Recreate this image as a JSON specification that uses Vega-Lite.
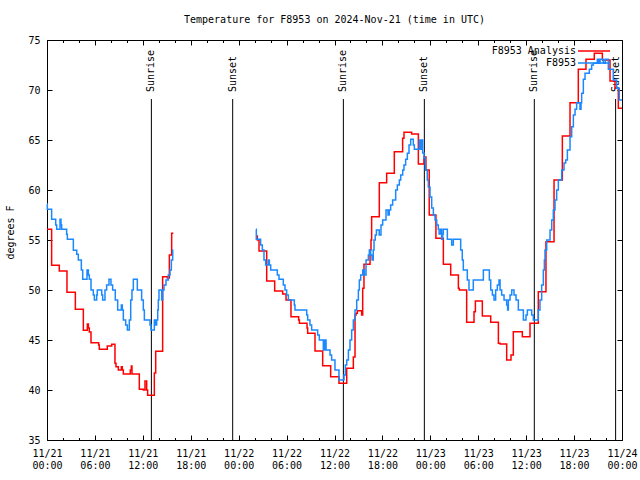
{
"$schema": "https://vega.github.io/schema/vega-lite/v6.json",
"width": 575, "height": 400,
"autosize": {"type": "none"},
"padding": {"left": 47, "top": 40, "right": 18, "bottom": 40},
"background": "white",
"title": {"text": "Temperature for F8953 on 2024-Nov-21 (time in UTC)", "font": "DejaVu Sans Mono", "fontSize": 10, "fontWeight": "normal", "color": "black", "offset": 10, "anchor": "middle"},
"config": {
  "view": {"stroke": "black", "strokeWidth": 1},
  "font": "DejaVu Sans Mono",
  "axis": {"grid": false, "domain": false, "tickColor": "black", "tickWidth": 1, "labelColor": "black", "titleColor": "black", "labelFont": "DejaVu Sans Mono", "labelFontSize": 10, "titleFont": "DejaVu Sans Mono", "titleFontSize": 10, "titleFontWeight": "normal"}
},
"datasets": {
  "sun": [
    {"h": 13.07, "event": "Sunrise"}, {"h": 23.25, "event": "Sunset"},
    {"h": 37.11, "event": "Sunrise"}, {"h": 47.25, "event": "Sunset"},
    {"h": 61.02, "event": "Sunrise"}, {"h": 71.2, "event": "Sunset"}
  ],
  "analysis": [
    {"h":0,"temp":56.07,"seg":1},{"h":0.58,"temp":52.47,"seg":1},{"h":1.54,"temp":51.9,"seg":1},{"h":2.5,"temp":49.77,"seg":1},{"h":3.55,"temp":48.07,"seg":1},{"h":4.55,"temp":45.97,"seg":1},{"h":5.05,"temp":46.6,"seg":1},{"h":5.18,"temp":46.2,"seg":1},{"h":5.3,"temp":45.8,"seg":1},{"h":5.51,"temp":44.73,"seg":1},{"h":6.47,"temp":44.5,"seg":1},{"h":6.55,"temp":44.07,"seg":1},{"h":7.55,"temp":44.4,"seg":1},{"h":8.1,"temp":44.57,"seg":1},{"h":8.51,"temp":42.67,"seg":1},{"h":8.64,"temp":42.33,"seg":1},{"h":8.93,"temp":42.0,"seg":1},{"h":9.31,"temp":42.33,"seg":1},{"h":9.43,"temp":42.0,"seg":1},{"h":9.56,"temp":41.6,"seg":1},{"h":10.43,"temp":42.0,"seg":1},{"h":10.56,"temp":42.4,"seg":1},{"h":10.64,"temp":41.6,"seg":1},{"h":11.56,"temp":40.07,"seg":1},{"h":12.06,"temp":40.0,"seg":1},{"h":12.27,"temp":40.9,"seg":1},{"h":12.48,"temp":40.0,"seg":1},{"h":12.6,"temp":39.47,"seg":1},{"h":13.44,"temp":41.7,"seg":1},{"h":13.61,"temp":43.87,"seg":1},{"h":14.48,"temp":51.33,"seg":1},{"h":15.07,"temp":51.2,"seg":1},{"h":15.32,"temp":53.5,"seg":1},{"h":15.61,"temp":55.67,"seg":1},{"h":15.82,"temp":55.67,"seg":1},
    {"h":26.25,"temp":55.4,"seg":2},{"h":26.34,"temp":55.0,"seg":2},{"h":26.55,"temp":53.9,"seg":2},{"h":27.51,"temp":50.9,"seg":2},{"h":28.51,"temp":49.9,"seg":2},{"h":29.51,"temp":49.6,"seg":2},{"h":29.93,"temp":49.0,"seg":2},{"h":30.55,"temp":47.33,"seg":2},{"h":31.51,"temp":47.0,"seg":2},{"h":31.6,"temp":46.67,"seg":2},{"h":32.56,"temp":46.2,"seg":2},{"h":32.64,"temp":45.67,"seg":2},{"h":33.56,"temp":43.9,"seg":2},{"h":34.52,"temp":42.43,"seg":2},{"h":35.52,"temp":41.33,"seg":2},{"h":36.56,"temp":40.67,"seg":2},{"h":37.53,"temp":42.17,"seg":2},{"h":38.36,"temp":43.3,"seg":2},{"h":38.57,"temp":47.5,"seg":2},{"h":38.7,"temp":47.67,"seg":2},{"h":38.86,"temp":47.93,"seg":2},{"h":39.4,"temp":47.5,"seg":2},{"h":39.53,"temp":50.17,"seg":2},{"h":39.69,"temp":52.57,"seg":2},{"h":40.45,"temp":54.0,"seg":2},{"h":40.57,"temp":55.0,"seg":2},{"h":40.65,"temp":57.33,"seg":2},{"h":41.61,"temp":60.73,"seg":2},{"h":42.53,"temp":61.67,"seg":2},{"h":43.49,"temp":63.83,"seg":2},{"h":44.53,"temp":65.17,"seg":2},{"h":44.7,"temp":65.77,"seg":2},{"h":45.66,"temp":65.6,"seg":2},{"h":46.5,"temp":62.6,"seg":2},{"h":47.2,"temp":63.3,"seg":2},{"h":47.45,"temp":62.0,"seg":2},{"h":47.86,"temp":57.5,"seg":2},{"h":48.7,"temp":55.17,"seg":2},{"h":49.63,"temp":52.57,"seg":2},{"h":50.55,"temp":51.5,"seg":2},{"h":51.51,"temp":50.17,"seg":2},{"h":51.63,"temp":50.0,"seg":2},{"h":52.55,"temp":46.77,"seg":2},{"h":53.47,"temp":47.83,"seg":2},{"h":53.64,"temp":48.9,"seg":2},{"h":54.51,"temp":47.4,"seg":2},{"h":55.56,"temp":46.77,"seg":2},{"h":56.52,"temp":44.67,"seg":2},{"h":56.73,"temp":44.6,"seg":2},{"h":57.56,"temp":43.0,"seg":2},{"h":58.1,"temp":43.5,"seg":2},{"h":58.39,"temp":45.83,"seg":2},{"h":59.52,"temp":45.33,"seg":2},{"h":60.48,"temp":46.67,"seg":2},{"h":61.52,"temp":49.83,"seg":2},{"h":62.48,"temp":54.83,"seg":2},{"h":63.49,"temp":61.0,"seg":2},{"h":64.53,"temp":65.4,"seg":2},{"h":65.49,"temp":68.73,"seg":2},{"h":66.53,"temp":72.07,"seg":2},{"h":67.49,"temp":73.07,"seg":2},{"h":68.53,"temp":73.67,"seg":2},{"h":69.54,"temp":73.0,"seg":2},{"h":70.5,"temp":70.9,"seg":2},{"h":71.12,"temp":70.17,"seg":2},{"h":71.54,"temp":68.17,"seg":2},{"h":72,"temp":68.17,"seg":2}
  ],
  "obs": [
    {"h":0,"temp":58.6,"seg":1},{"h":0.04,"temp":58.07,"seg":1},{"h":0.58,"temp":57.07,"seg":1},{"h":1.09,"temp":56.5,"seg":1},{"h":1.21,"temp":56.07,"seg":1},{"h":1.63,"temp":57.07,"seg":1},{"h":1.75,"temp":56.5,"seg":1},{"h":1.84,"temp":56.07,"seg":1},{"h":2.46,"temp":55.57,"seg":1},{"h":2.55,"temp":55.07,"seg":1},{"h":3.3,"temp":53.97,"seg":1},{"h":3.72,"temp":53.57,"seg":1},{"h":3.92,"temp":53.0,"seg":1},{"h":4.3,"temp":52.0,"seg":1},{"h":4.47,"temp":51.07,"seg":1},{"h":5.01,"temp":52.0,"seg":1},{"h":5.18,"temp":51.5,"seg":1},{"h":5.3,"temp":51.07,"seg":1},{"h":5.51,"temp":50.0,"seg":1},{"h":5.8,"temp":49.5,"seg":1},{"h":5.93,"temp":49.0,"seg":1},{"h":6.22,"temp":49.5,"seg":1},{"h":6.3,"temp":50.0,"seg":1},{"h":6.85,"temp":49.5,"seg":1},{"h":6.97,"temp":49.0,"seg":1},{"h":7.26,"temp":50.0,"seg":1},{"h":7.47,"temp":50.5,"seg":1},{"h":7.76,"temp":51.07,"seg":1},{"h":8.01,"temp":50.5,"seg":1},{"h":8.22,"temp":50.0,"seg":1},{"h":8.55,"temp":49.0,"seg":1},{"h":8.85,"temp":48.0,"seg":1},{"h":9.31,"temp":48.5,"seg":1},{"h":9.43,"temp":48.0,"seg":1},{"h":9.56,"temp":47.0,"seg":1},{"h":9.85,"temp":46.5,"seg":1},{"h":10.06,"temp":46.0,"seg":1},{"h":10.31,"temp":47.0,"seg":1},{"h":10.48,"temp":49.0,"seg":1},{"h":10.64,"temp":50.0,"seg":1},{"h":10.81,"temp":51.07,"seg":1},{"h":11.31,"temp":50.0,"seg":1},{"h":11.85,"temp":49.0,"seg":1},{"h":12.06,"temp":48.0,"seg":1},{"h":12.19,"temp":47.0,"seg":1},{"h":12.9,"temp":46.5,"seg":1},{"h":13.02,"temp":46.0,"seg":1},{"h":13.44,"temp":47.0,"seg":1},{"h":13.61,"temp":46.5,"seg":1},{"h":13.73,"temp":47.0,"seg":1},{"h":13.86,"temp":48.0,"seg":1},{"h":13.94,"temp":49.0,"seg":1},{"h":14.02,"temp":50.0,"seg":1},{"h":14.36,"temp":49.0,"seg":1},{"h":14.48,"temp":50.0,"seg":1},{"h":14.65,"temp":50.5,"seg":1},{"h":14.9,"temp":51.0,"seg":1},{"h":15.19,"temp":51.5,"seg":1},{"h":15.4,"temp":52.0,"seg":1},{"h":15.57,"temp":53.0,"seg":1},{"h":15.74,"temp":54.0,"seg":1},{"h":15.82,"temp":54.0,"seg":1},
    {"h":26.17,"temp":56.07,"seg":2},{"h":26.21,"temp":55.07,"seg":2},{"h":26.75,"temp":54.5,"seg":2},{"h":26.96,"temp":54.0,"seg":2},{"h":27.17,"temp":53.0,"seg":2},{"h":27.38,"temp":52.5,"seg":2},{"h":27.72,"temp":53.0,"seg":2},{"h":27.84,"temp":52.5,"seg":2},{"h":28.01,"temp":52.0,"seg":2},{"h":28.84,"temp":51.5,"seg":2},{"h":29.05,"temp":51.07,"seg":2},{"h":29.59,"temp":50.5,"seg":2},{"h":29.8,"temp":50.0,"seg":2},{"h":30.01,"temp":49.5,"seg":2},{"h":30.22,"temp":49.0,"seg":2},{"h":30.97,"temp":48.5,"seg":2},{"h":31.05,"temp":48.0,"seg":2},{"h":32.52,"temp":47.5,"seg":2},{"h":32.64,"temp":47.0,"seg":2},{"h":32.93,"temp":46.5,"seg":2},{"h":33.14,"temp":46.0,"seg":2},{"h":33.89,"temp":45.5,"seg":2},{"h":34.1,"temp":45.0,"seg":2},{"h":34.6,"temp":44.0,"seg":2},{"h":34.77,"temp":45.0,"seg":2},{"h":34.94,"temp":44.0,"seg":2},{"h":35.44,"temp":43.5,"seg":2},{"h":35.64,"temp":43.0,"seg":2},{"h":36.06,"temp":42.0,"seg":2},{"h":36.56,"temp":41.0,"seg":2},{"h":37.19,"temp":41.5,"seg":2},{"h":37.36,"temp":42.5,"seg":2},{"h":37.53,"temp":43.0,"seg":2},{"h":37.74,"temp":44.0,"seg":2},{"h":37.94,"temp":45.0,"seg":2},{"h":38.15,"temp":46.0,"seg":2},{"h":38.36,"temp":47.0,"seg":2},{"h":38.57,"temp":48.0,"seg":2},{"h":38.78,"temp":49.0,"seg":2},{"h":38.99,"temp":50.0,"seg":2},{"h":39.11,"temp":51.0,"seg":2},{"h":39.28,"temp":51.5,"seg":2},{"h":39.53,"temp":52.0,"seg":2},{"h":39.74,"temp":51.5,"seg":2},{"h":39.95,"temp":53.0,"seg":2},{"h":40.24,"temp":53.5,"seg":2},{"h":40.36,"temp":54.0,"seg":2},{"h":40.53,"temp":53.5,"seg":2},{"h":40.7,"temp":53.0,"seg":2},{"h":40.85,"temp":54.0,"seg":2},{"h":40.95,"temp":55.0,"seg":2},{"h":41.1,"temp":55.5,"seg":2},{"h":41.25,"temp":56.0,"seg":2},{"h":41.6,"temp":55.5,"seg":2},{"h":41.82,"temp":56.5,"seg":2},{"h":42.03,"temp":57.0,"seg":2},{"h":42.45,"temp":58.0,"seg":2},{"h":42.7,"temp":57.5,"seg":2},{"h":42.85,"temp":58.0,"seg":2},{"h":43.03,"temp":58.5,"seg":2},{"h":43.28,"temp":59.0,"seg":2},{"h":43.66,"temp":60.0,"seg":2},{"h":43.87,"temp":60.5,"seg":2},{"h":44.12,"temp":61.0,"seg":2},{"h":44.29,"temp":61.5,"seg":2},{"h":44.54,"temp":62.0,"seg":2},{"h":44.7,"temp":62.5,"seg":2},{"h":44.91,"temp":63.07,"seg":2},{"h":45.12,"temp":63.67,"seg":2},{"h":45.33,"temp":64.5,"seg":2},{"h":45.54,"temp":65.07,"seg":2},{"h":45.87,"temp":64.5,"seg":2},{"h":46.0,"temp":64.07,"seg":2},{"h":46.62,"temp":65.0,"seg":2},{"h":46.79,"temp":64.07,"seg":2},{"h":46.92,"temp":65.0,"seg":2},{"h":47.04,"temp":63.7,"seg":2},{"h":47.21,"temp":63.2,"seg":2},{"h":47.38,"temp":62.0,"seg":2},{"h":47.62,"temp":61.0,"seg":2},{"h":47.75,"temp":60.3,"seg":2},{"h":47.96,"temp":59.3,"seg":2},{"h":48.17,"temp":58.2,"seg":2},{"h":48.38,"temp":57.5,"seg":2},{"h":48.59,"temp":57.0,"seg":2},{"h":48.8,"temp":56.5,"seg":2},{"h":49.0,"temp":56.07,"seg":2},{"h":49.1,"temp":55.6,"seg":2},{"h":49.3,"temp":56.07,"seg":2},{"h":49.42,"temp":55.07,"seg":2},{"h":49.55,"temp":55.6,"seg":2},{"h":49.63,"temp":56.07,"seg":2},{"h":50.13,"temp":55.07,"seg":2},{"h":50.67,"temp":54.5,"seg":2},{"h":50.88,"temp":55.07,"seg":2},{"h":51.8,"temp":54.0,"seg":2},{"h":52.0,"temp":53.0,"seg":2},{"h":52.13,"temp":52.0,"seg":2},{"h":52.63,"temp":51.0,"seg":2},{"h":52.84,"temp":50.0,"seg":2},{"h":53.38,"temp":51.0,"seg":2},{"h":54.64,"temp":52.0,"seg":2},{"h":55.39,"temp":51.0,"seg":2},{"h":55.56,"temp":50.0,"seg":2},{"h":55.77,"temp":49.5,"seg":2},{"h":55.97,"temp":49.0,"seg":2},{"h":56.18,"temp":50.0,"seg":2},{"h":56.39,"temp":50.5,"seg":2},{"h":56.6,"temp":51.0,"seg":2},{"h":56.73,"temp":50.0,"seg":2},{"h":56.93,"temp":49.5,"seg":2},{"h":57.23,"temp":49.0,"seg":2},{"h":57.56,"temp":48.5,"seg":2},{"h":57.68,"temp":48.0,"seg":2},{"h":57.77,"temp":49.0,"seg":2},{"h":57.98,"temp":49.5,"seg":2},{"h":58.19,"temp":50.0,"seg":2},{"h":58.48,"temp":49.5,"seg":2},{"h":58.73,"temp":49.0,"seg":2},{"h":59.02,"temp":48.0,"seg":2},{"h":59.65,"temp":47.0,"seg":2},{"h":59.98,"temp":47.5,"seg":2},{"h":60.15,"temp":48.0,"seg":2},{"h":60.69,"temp":47.5,"seg":2},{"h":60.9,"temp":47.0,"seg":2},{"h":61.52,"temp":48.0,"seg":2},{"h":61.73,"temp":49.0,"seg":2},{"h":61.94,"temp":50.5,"seg":2},{"h":62.15,"temp":52.0,"seg":2},{"h":62.28,"temp":53.0,"seg":2},{"h":62.36,"temp":54.0,"seg":2},{"h":62.57,"temp":55.0,"seg":2},{"h":62.99,"temp":56.0,"seg":2},{"h":63.2,"temp":57.0,"seg":2},{"h":63.4,"temp":58.0,"seg":2},{"h":63.61,"temp":59.0,"seg":2},{"h":63.82,"temp":60.0,"seg":2},{"h":64.03,"temp":61.0,"seg":2},{"h":64.45,"temp":62.0,"seg":2},{"h":64.74,"temp":62.7,"seg":2},{"h":64.95,"temp":63.0,"seg":2},{"h":65.16,"temp":64.0,"seg":2},{"h":65.49,"temp":65.33,"seg":2},{"h":65.7,"temp":66.33,"seg":2},{"h":65.91,"temp":67.5,"seg":2},{"h":66.12,"temp":68.07,"seg":2},{"h":66.32,"temp":68.73,"seg":2},{"h":66.74,"temp":68.07,"seg":2},{"h":66.87,"temp":68.73,"seg":2},{"h":66.95,"temp":69.67,"seg":2},{"h":67.16,"temp":71.07,"seg":2},{"h":67.37,"temp":71.67,"seg":2},{"h":67.91,"temp":72.07,"seg":2},{"h":68.2,"temp":72.5,"seg":2},{"h":68.41,"temp":72.67,"seg":2},{"h":68.91,"temp":73.07,"seg":2},{"h":69.08,"temp":72.67,"seg":2},{"h":69.25,"temp":73.07,"seg":2},{"h":69.66,"temp":72.67,"seg":2},{"h":69.9,"temp":73.07,"seg":2},{"h":70.29,"temp":72.07,"seg":2},{"h":70.91,"temp":71.0,"seg":2},{"h":71.33,"temp":70.17,"seg":2},{"h":71.66,"temp":69.0,"seg":2},{"h":72,"temp":69.0,"seg":2}
  ]
},
"layer": [
  {
    "data": {"name": "sun"},
    "mark": {"type": "rule", "color": "black", "strokeWidth": 1},
    "encoding": {
      "x": {"field": "h", "type": "quantitative", "scale": {"domain": [0, 72], "nice": false, "zero": false},
            "axis": {"orient": "top", "values": [0,6,12,18,24,30,36,42,48,54,60,66,72], "tickSize": -5, "labels": false, "title": null}},
      "y": {"datum": 69.1, "type": "quantitative", "axis": null},
      "y2": {"datum": 35}
    }
  },
  {
    "data": {"name": "sun"},
    "mark": {"type": "text", "angle": 270, "align": "left", "baseline": "middle", "font": "DejaVu Sans Mono", "fontSize": 10, "color": "black"},
    "encoding": {
      "x": {"field": "h", "type": "quantitative",
            "axis": {"orient": "top", "values": [0,2,4,6,8,10,12,14,16,18,20,22,24,26,28,30,32,34,36,38,40,42,44,46,48,50,52,54,56,58,60,62,64,66,68,70,72], "tickSize": -2.5, "labels": false, "title": null}},
      "y": {"datum": 69.8, "type": "quantitative", "axis": null},
      "text": {"field": "event"}
    }
  },
  {
    "data": {"name": "analysis"},
    "mark": {"type": "line", "interpolate": "step-after", "strokeWidth": 1.5},
    "encoding": {
      "x": {"field": "h", "type": "quantitative",
            "axis": {"orient": "bottom", "values": [0,6,12,18,24,30,36,42,48,54,60,66,72], "tickSize": -5, "labelPadding": 13, "labelLineHeight": 12.5, "labelFlush": false, "labelOverlap": false, "labelBound": false, "title": null,
                     "labelExpr": "['11/' + (21 + floor(datum.value / 24)), (datum.value % 24 < 10 ? '0' : '') + (datum.value % 24) + ':00']"}},
      "y": {"field": "temp", "type": "quantitative", "scale": {"domain": [35, 75], "nice": false, "zero": false},
            "axis": {"orient": "left", "values": [35,40,45,50,55,60,65,70,75], "tickSize": -5, "labelPadding": 12, "labelFlush": false, "title": "degrees F", "titleX": -37, "titleY": 192, "titleBaseline": "middle"}},
      "detail": {"field": "seg"},
      "color": {"datum": "F8953 Analysis", "scale": {"domain": ["F8953 Analysis", "F8953"], "range": ["#ff0000", "#1a88ff"]},
                "legend": {"title": null, "orient": "none", "legendX": 540, "legendY": 4, "symbolType": "M-2.667,0H2.667", "symbolSize": 144, "symbolStrokeWidth": 1.5, "labelAlign": "right", "labelOffset": -25, "labelFont": "DejaVu Sans Mono", "labelFontSize": 10, "labelColor": "black", "rowPadding": 0, "padding": 0}}
    }
  },
  {
    "data": {"name": "obs"},
    "mark": {"type": "line", "interpolate": "step-after", "strokeWidth": 1.5},
    "encoding": {
      "x": {"field": "h", "type": "quantitative",
            "axis": {"orient": "bottom", "values": [0,2,4,6,8,10,12,14,16,18,20,22,24,26,28,30,32,34,36,38,40,42,44,46,48,50,52,54,56,58,60,62,64,66,68,70,72], "tickSize": -2.5, "labels": false, "title": null}},
      "y": {"field": "temp", "type": "quantitative",
            "axis": {"orient": "right", "values": [35,40,45,50,55,60,65,70,75], "tickSize": -5, "labels": false, "title": null}},
      "detail": {"field": "seg"},
      "color": {"datum": "F8953"}
    }
  }
],
"resolve": {"axis": {"x": "independent", "y": "independent"}}
}
